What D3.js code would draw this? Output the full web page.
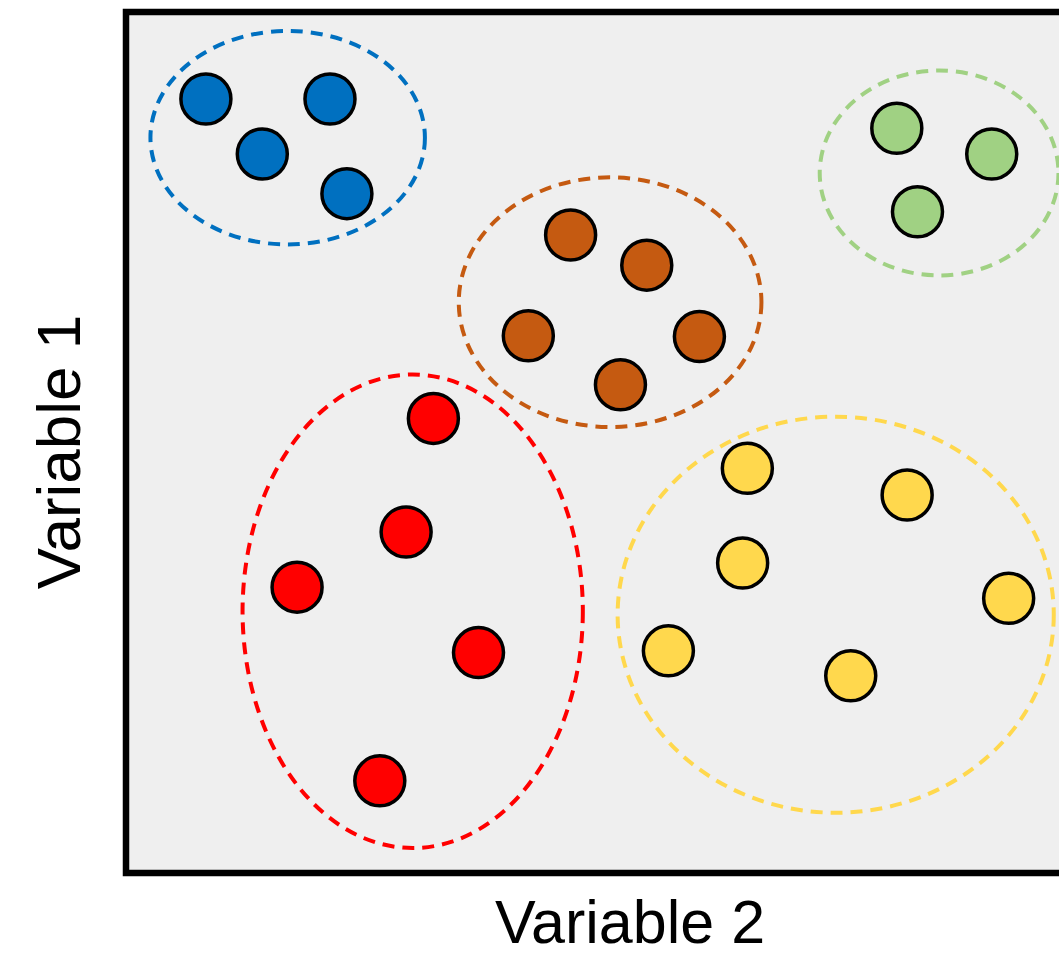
<!DOCTYPE html>
<html>
<head>
<meta charset="utf-8">
<script src="https://cdn.jsdelivr.net/npm/d3@7"></script>
<style>
  html, body { margin: 0; padding: 0; background: #ffffff; }
  svg { display: block; }
</style>
</head>
<body>
<svg id="chart" width="1059" height="957"></svg>
<script>
// Cluster names and colours
const clusters = ["blue", "green", "orange", "red", "yellow"];
const clusterColors = ["#0070C0", "#A0D183", "#C55A11", "#FF0000", "#FFD84D"];

// Points: [Variable 2, Variable 1] per cluster
const bluePoints   = [[8.5, 89.9], [21.7, 89.9], [14.5, 83.5], [23.5, 78.9]];
const greenPoints  = [[82.0, 86.5], [92.1, 83.5], [84.2, 76.8]];
const orangePoints = [[47.3, 74.1], [55.4, 70.6], [42.8, 62.4], [61.0, 62.3], [52.6, 56.7]];
const redPoints    = [[32.7, 52.8], [29.8, 39.6], [18.2, 33.2], [37.5, 25.6], [27.0, 10.7]];
const yellowPoints = [[66.1, 47.0], [83.1, 43.9], [65.6, 36.0], [93.9, 31.9], [57.7, 25.8], [77.1, 22.9]];

// Cluster ellipses: [centre x, centre y, radius x, radius y] in data units
const blueEllipse   = [17.2, 85.4, 14.6, 12.4];
const greenEllipse  = [86.5, 81.3, 12.7, 11.9];
const orangeEllipse = [51.5, 66.3, 16.1, 14.5];
const redEllipse    = [30.5, 30.4, 18.1, 27.5];
const yellowEllipse = [75.5, 30.0, 23.2, 23.0];

const xLabel = "Variable 2";
const yLabel = "Variable 1";

const pointSets = [bluePoints, greenPoints, orangePoints, redPoints, yellowPoints];
const ellipseSets = [blueEllipse, greenEllipse, orangeEllipse, redEllipse, yellowEllipse];

const svg = d3.select("#chart");

const x = d3.scaleLinear().domain([0, 100]).range([126, 1066]);
const y = d3.scaleLinear().domain([0, 100]).range([873, 12]);

// plot frame / background
svg.append("rect")
  .attr("x", x(0)).attr("y", y(100))
  .attr("width", x(100) - x(0) + 20)
  .attr("height", y(0) - y(100))
  .attr("fill", "#efefef")
  .attr("stroke", "#000")
  .attr("stroke-width", 6.5);

svg.append("defs").append("clipPath").attr("id", "plotclip")
  .append("rect")
  .attr("x", x(0)).attr("y", y(100))
  .attr("width", 1059 - x(0))
  .attr("height", y(0) - y(100));

const plot = svg.append("g").attr("clip-path", "url(#plotclip)");

// ellipses
const ellData = ellipseSets.map((e, i) => ({ e, color: clusterColors[i] }));
plot.selectAll("ellipse.cl")
  .data(ellData)
  .join("ellipse")
  .attr("class", "cl")
  .attr("cx", d => x(d.e[0]))
  .attr("cy", d => y(d.e[1]))
  .attr("rx", d => x(d.e[2]) - x(0))
  .attr("ry", d => y(0) - y(d.e[3]))
  .attr("fill", "none")
  .attr("stroke", d => d.color)
  .attr("stroke-width", 4)
  .attr("stroke-dasharray", "12 8");

// points
const ptData = [];
pointSets.forEach((pts, i) => pts.forEach(p => ptData.push({ p, color: clusterColors[i] })));
plot.selectAll("circle.pt")
  .data(ptData)
  .join("circle")
  .attr("class", "pt")
  .attr("cx", d => x(d.p[0]))
  .attr("cy", d => y(d.p[1]))
  .attr("r", 25)
  .attr("fill", d => d.color)
  .attr("stroke", "#000")
  .attr("stroke-width", 3.5);

// axis labels
svg.append("text")
  .attr("x", 630).attr("y", 943)
  .attr("text-anchor", "middle")
  .attr("font-family", "Liberation Sans, Arial, sans-serif")
  .attr("font-size", 61)
  .attr("fill", "#000")
  .text(xLabel);

svg.append("text")
  .attr("transform", "translate(80,452) rotate(-90)")
  .attr("text-anchor", "middle")
  .attr("font-family", "Liberation Sans, Arial, sans-serif")
  .attr("font-size", 62)
  .attr("fill", "#000")
  .text(yLabel);
</script>
</body>
</html>
